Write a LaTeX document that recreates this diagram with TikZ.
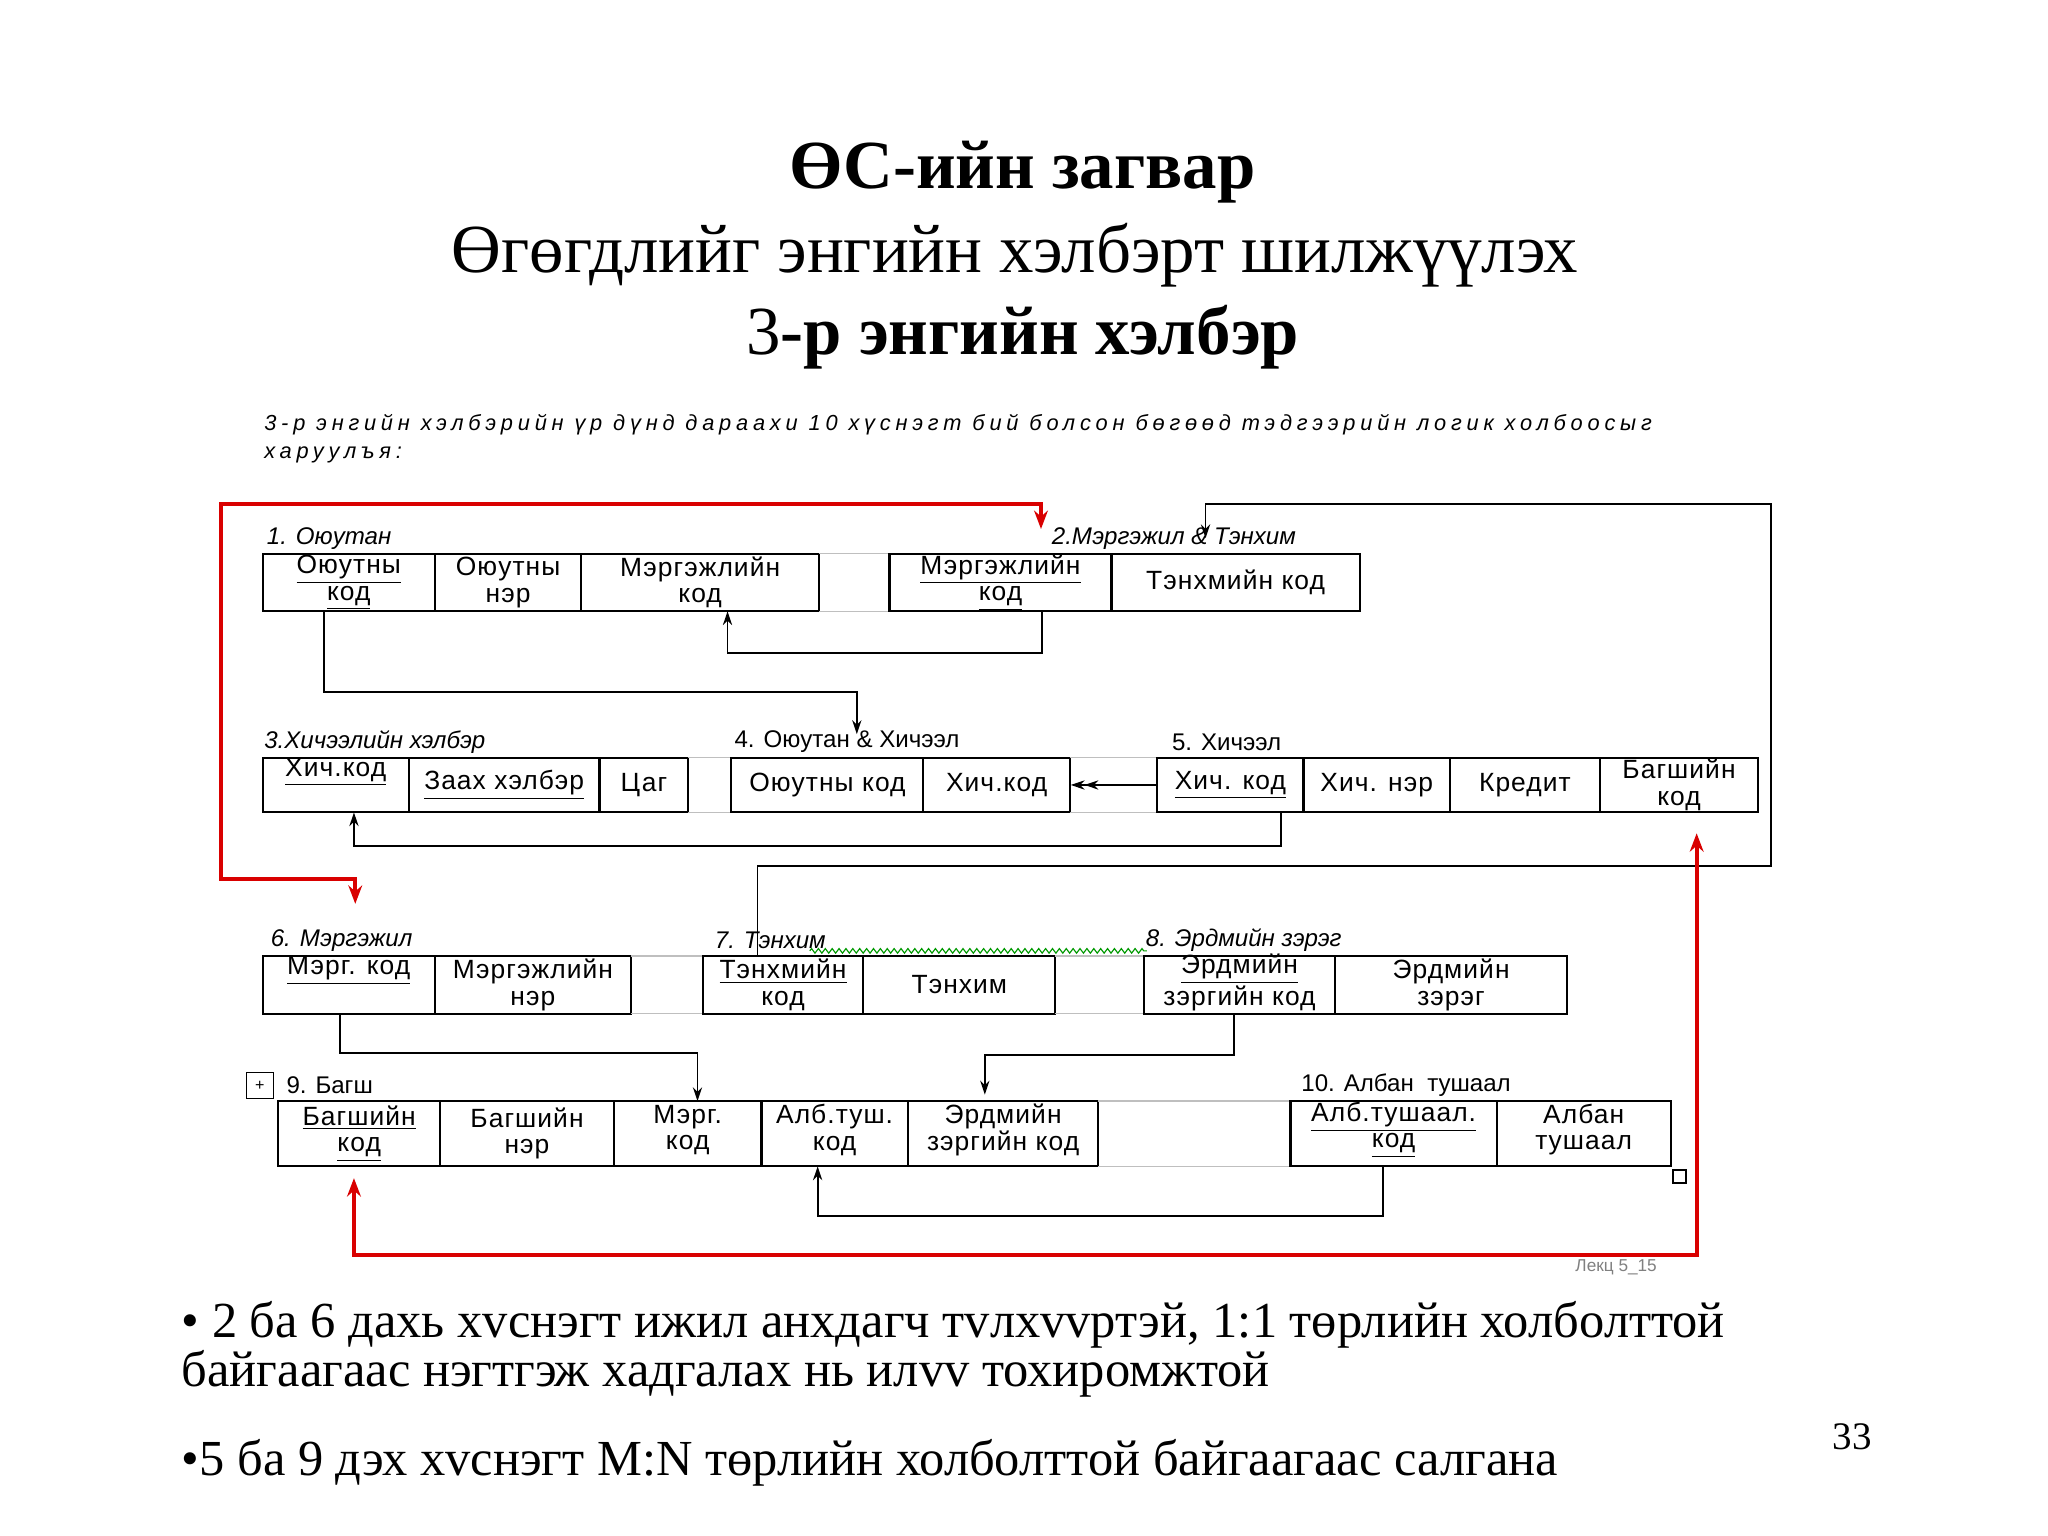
\documentclass[tikz,border=0pt]{standalone}
\usepackage{fontspec}
\setmainfont{Liberation Serif}
\newfontfamily\sans{Liberation Sans}
\usetikzlibrary{arrows.meta,decorations.pathmorphing}
\tikzset{
 cellb/.style={draw,line width=0.9pt,inner sep=0pt},
 ctext/.style={inner sep=0pt,font=\sans\fontsize{11.5}{11.5}\selectfont\addfontfeature{LetterSpace=4},align=center},
 lbl/.style={anchor=west,inner sep=0pt,font=\sans\itshape\fontsize{10.5}{11}\selectfont},
 conn/.style={line width=0.8pt,-{Stealth[length=6pt,width=4pt]}},
 redc/.style={line width=1.6pt,red!85!black,{Stealth[length=8pt,width=6pt]}-{Stealth[length=8pt,width=6pt]}},
 gapb/.style={draw=gray!50,line width=0.6pt}
}
% name, x1, x2, y1, y2, text, vertical offset (px)
\newcommand\cel[7]{\node[cellb,minimum width={(#3-#2)*0.02cm},minimum height={(#5-#4)*0.02cm}] (#1) at ({(#2+#3)/2},{(#4+#5)/2}) {};
\node[ctext] (#1t) at ([yshift={-(#7)*0.02cm}]#1.center) {#6};}
\newcommand\gp[4]{\draw[gapb] (#1,#3) -- (#2,#3) (#1,#4) -- (#2,#4);}
\newcommand\ul[1]{\underline{#1}}
\begin{document}
\begin{tikzpicture}[x=0.02cm,y=-0.02cm]
\useasboundingbox[fill=white] (0,0) rectangle (1568,1176);
% titles
\node (t1) at (783,132) {\fontsize{30}{34}\selectfont\bfseries ӨС-ийн загвар};
\node (t2) at (777,195) {\fontsize{30}{34}\selectfont Өгөгдлийг энгийн хэлбэрт шилжүүлэх};
\node (t3) at (783,258) {\fontsize{30}{34}\selectfont 3\textbf{-р энгийн хэлбэр}};
\node[lbl,font=\sans\itshape\fontsize{9.5}{10}\selectfont\addfontfeature{LetterSpace=22}] (cap1) at (202,325) {3-р энгийн хэлбэрийн үр дүнд дараахи 10 хүснэгт бий болсон бөгөөд тэдгээрийн логик холбоосыг};
\node[lbl,font=\sans\itshape\fontsize{9.5}{10}\selectfont\addfontfeature{LetterSpace=22}] (cap2) at (202,348) {харуулъя:};
% row 1
\node[lbl] (l1) at (204,412) {1. Оюутан};
\node[lbl] (l2) at (805,412) {2.Мэргэжил \& Тэнхим};
\cel{a1}{201}{333}{424}{468}{\ul{Оюутны}\\\ul{код}}{0}
\cel{a2}{333}{445}{424}{468}{Оюутны\\нэр}{0}
\cel{a3}{445}{627}{424}{468}{Мэргэжлийн\\код}{0}
\gp{627}{681}{424}{468}
\cel{b1}{681}{851}{424}{468}{\ul{Мэргэжлийн}\\\ul{код}}{0}
\cel{b2}{851}{1041}{424}{468}{Тэнхмийн код}{0}
% row 2
\node[lbl] (l3) at (202,568) {3.Хичээлийн хэлбэр};
\node[lbl,font=\sans\fontsize{10.5}{11}\selectfont] (l4) at (562,568) {4. Оюутан \& Хичээл};
\node[lbl,font=\sans\fontsize{10.5}{11}\selectfont] (l5) at (897,568) {5. Хичээл};
\cel{c1}{201}{313}{580}{622}{\ul{Хич.код}}{-10}
\cel{c2}{313}{459}{580}{622}{\ul{Заах хэлбэр}}{0}
\cel{c3}{459}{527}{580}{622}{Цаг}{0}
\gp{527}{560}{580}{622}
\cel{d1}{560}{707}{580}{622}{Оюутны код}{0}
\cel{d2}{707}{819}{580}{622}{Хич.код}{0}
\gp{819}{886}{580}{622}
\cel{e1}{886}{998}{580}{622}{\ul{Хич. код}}{0}
\cel{e2}{998}{1110}{580}{622}{Хич. нэр}{0}
\cel{e3}{1110}{1225}{580}{622}{Кредит}{0}
\cel{e4}{1225}{1346}{580}{622}{Багшийн\\код}{0}
% row 3
\node[lbl] (l6) at (207,720) {6. Мэргэжил};
\node[lbl] (l7) at (547,720) {7. Тэнхим};
\node[lbl] (l8) at (877,720) {8. Эрдмийн зэрэг};
\draw[green!60!black,line width=0.5pt,decorate,decoration={zigzag,amplitude=1pt,segment length=3pt}] (620,728) -- (878,728);
\cel{f1}{201}{333}{732}{776}{\ul{Мэрг. код}}{-11}
\cel{f2}{333}{483}{732}{776}{Мэргэжлийн\\нэр}{0}
\gp{483}{538}{732}{776}
\cel{g1}{538}{661}{732}{776}{\ul{Тэнхмийн}\\код}{0}
\cel{g2}{661}{808}{732}{776}{Тэнхим}{0}
\gp{808}{876}{732}{776}
\cel{h1}{876}{1022}{732}{776}{\ul{Эрдмийн}\\\ul{зэргийн код}}{0}
\cel{h2}{1022}{1200}{732}{776}{Эрдмийн\\зэрэг}{0}
% row 4
\node[draw,inner sep=0pt,minimum size=0.4cm,font=\sans\scriptsize] (ic) at (199,831) {+};
\node[lbl,font=\sans\fontsize{10.5}{11}\selectfont] (l9) at (219,831) {9. Багш};
\node[lbl,font=\sans\fontsize{10.5}{11}\selectfont] (l10) at (996,831) {10. Албан \ тушаал};
\cel{i1}{213}{337}{843}{893}{\ul{Багшийн}\\\ul{код}}{0}
\cel{i2}{337}{470}{843}{893}{Багшийн\\нэр}{0}
\cel{i3}{470}{583}{843}{893}{Мэрг.\\код}{-3}
\cel{i4}{583}{695}{843}{893}{Алб.туш.\\код}{-3}
\cel{i5}{695}{841}{843}{893}{Эрдмийн\\зэргийн код}{-3}
\gp{841}{988}{843}{893}
\cel{j1}{988}{1146}{843}{893}{\ul{Алб.тушаал.}\\\ul{код}}{-3}
\cel{j2}{1146}{1279}{843}{893}{Албан\\тушаал}{-3}
\node[draw,line width=0.8pt,minimum size=0.2cm,inner sep=0pt] (sq) at (1286,901) {};
\node[anchor=west,text=gray,font=\sans\fontsize{7.5}{8}\selectfont] (lek) at (1200,970) {Лекц 5\_15};
% black connectors
\draw[conn] (798,468) -- (798,500) -- (557,500) -- (557,468);
\draw[conn] (248,468) -- (248,530) -- (656,530) -- (656,562);
\draw[line width=0.8pt,-{Stealth[length=6pt,width=4pt]Stealth[length=6pt,width=4pt]}] (e1.west) -- (d2.east);
\draw[conn] (981,622) -- (981,648) -- (271,648) -- (271,622);
\draw[conn] (580,732) -- (580,663) -- (1356,663) -- (1356,386) -- (923,386) -- (923,412);
\draw[conn] (260,776) -- (260,806) -- (534,806) -- (534,843);
\draw[conn] (945,776) -- (945,808) -- (754,808) -- (754,838);
\draw[conn] (1059,893) -- (1059,931) -- (626,931) -- (626,893);
% red connectors
\draw[redc] (272,692) -- (272,673) -- (169,673) -- (169,386) -- (797,386) -- (797,405);
\draw[redc] (271,902) -- (271,961) -- (1299,961) -- (1299,638);
% bullets
\node[anchor=west,align=left,font=\fontsize{22}{19}\selectfont] (bl1) at (133,1033) {• 2 ба 6 дахь хvснэгт ижил анхдагч тvлхvvртэй, 1:1 төрлийн холболттой\\байгаагаас нэгтгэж хадгалах нь илvv тохиромжтой};
\node[anchor=west,font=\fontsize{22}{24}\selectfont] (bl2) at (133,1120) {•5 ба 9 дэх хvснэгт M:N төрлийн холболттой байгаагаас салгана};
\node (pn) at (1418,1100) {\fontsize{17}{18}\selectfont 33};
\end{tikzpicture}
\end{document}
